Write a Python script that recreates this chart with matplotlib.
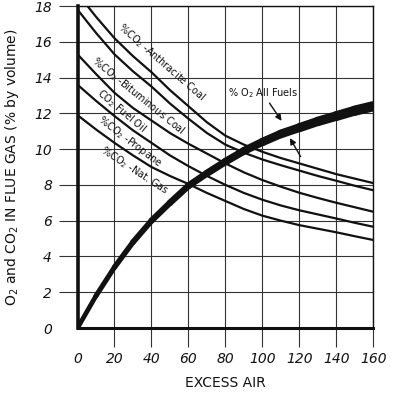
import numpy as np
import matplotlib
matplotlib.use("Agg")
import matplotlib.pyplot as plt
from matplotlib.collections import LineCollection

# === DATA ===
excess_air = [0, 10, 20, 30, 40, 50, 60, 70, 80, 90, 100, 110, 120, 130, 140, 150, 160]

co2_anthracite = [18.7, 17.4, 16.2, 15.2, 14.3, 13.3, 12.4, 11.5, 10.75, 10.25, 9.85, 9.5, 9.2, 8.9, 8.6, 8.35, 8.1]
co2_bituminous = [17.8, 16.5, 15.3, 14.35, 13.5, 12.55, 11.7, 10.9, 10.25, 9.8, 9.42, 9.1, 8.8, 8.5, 8.23, 7.95, 7.7]
co2_fuel_oil = [15.3, 14.2, 13.15, 12.3, 11.6, 10.9, 10.3, 9.75, 9.2, 8.7, 8.27, 7.9, 7.56, 7.27, 7.0, 6.75, 6.5]
co2_propane = [13.6, 12.7, 11.85, 11.05, 10.35, 9.65, 9.05, 8.5, 8.0, 7.55, 7.17, 6.85, 6.58, 6.35, 6.12, 5.88, 5.66]
co2_nat_gas = [11.9, 11.1, 10.35, 9.65, 9.0, 8.5, 8.05, 7.55, 7.1, 6.65, 6.28, 6.0, 5.75, 5.55, 5.35, 5.13, 4.92]
o2_all_fuels = [0.0, 1.8, 3.4, 4.8, 6.0, 7.0, 7.95, 8.65, 9.3, 9.9, 10.4, 10.85, 11.2, 11.55, 11.85, 12.15, 12.4]

co2_series = [co2_anthracite, co2_bituminous, co2_fuel_oil, co2_propane, co2_nat_gas]

# curve labels: text, x, y, angle
curve_labels = [
    (r"%CO$_2$ -Anthracite Coal", 45.5, 14.85, -41),
    (r"%CO$_2$ -Bituminous Coal", 33.0, 12.95, -39),
    (r"CO$_2$ Fuel Oil", 23.5, 12.15, -40),
    (r"%CO$_2$ -Propane", 28.4, 10.4, -37),
    (r"%CO$_2$ -Nat. Gas", 31.1, 8.8, -33),
]

INK = "#111111"

# === FIGURE ===
fig = plt.figure(figsize=(4.13, 3.97), dpi=100)
ax = fig.add_axes([0.1877, 0.1738, 0.7163, 0.811])

ax.set_xlim(0, 160)
ax.set_ylim(0, 18)
ax.set_xticks(range(0, 161, 20))
ax.set_yticks(range(0, 19, 2))
ax.grid(True, color="#333333", linewidth=0.8)
ax.set_axisbelow(True)

ax.tick_params(direction="out", length=14, width=0.8, color="#333333",
               labelsize=10, labelcolor=INK)
ax.tick_params(axis="y", pad=4.3)
ax.tick_params(axis="x", pad=3.6)
ax.xaxis.get_major_ticks()[0].tick1line.set_visible(False)
ax.yaxis.get_major_ticks()[0].tick1line.set_visible(False)
for lbl in ax.get_xticklabels() + ax.get_yticklabels():
    lbl.set_style("italic")

for side, lw in [("left", 2.6), ("bottom", 2.2), ("top", 1.0), ("right", 1.0)]:
    ax.spines[side].set_linewidth(lw)
    ax.spines[side].set_color(INK)

# CO2 curves
for vals in co2_series:
    ax.plot(excess_air, vals, color=INK, linewidth=1.6, solid_capstyle="round", zorder=3)

for text, x, y, ang in curve_labels:
    ax.text(x, y, text, rotation=ang, rotation_mode="anchor", ha="center", va="center",
            fontsize=7, color=INK, zorder=4)

# O2 curve, getting thicker to the right
pts = np.column_stack([excess_air, o2_all_fuels])
segs = np.stack([pts[:-1], pts[1:]], axis=1)
widths = np.linspace(3.4, 7.4, len(segs))
lc = LineCollection(segs, linewidths=widths, colors=INK, capstyle="round",
                    joinstyle="round", zorder=5)
ax.add_collection(lc)

ax.text(100.5, 13.15, r"% O$_2$ All Fuels", fontsize=7, color=INK, ha="center", va="center")
ax.annotate("", xy=(111.2, 11.45), xytext=(103, 12.7),
            arrowprops=dict(arrowstyle="-|>", color=INK, lw=1.0, mutation_scale=9))
ax.annotate("", xy=(114.1, 10.75), xytext=(121.4, 9.45),
            arrowprops=dict(arrowstyle="-|>", color=INK, lw=1.0, mutation_scale=9))

ax.set_xlabel("EXCESS AIR", fontsize=10, color=INK)
ax.xaxis.set_label_coords(0.5, -0.148)
ax.set_ylabel(r"O$_2$ and CO$_2$ IN FLUE GAS (% by volume)", fontsize=10, color=INK)
ax.yaxis.set_label_coords(-0.19, 0.5)

fig.savefig("out.png", dpi=100)
